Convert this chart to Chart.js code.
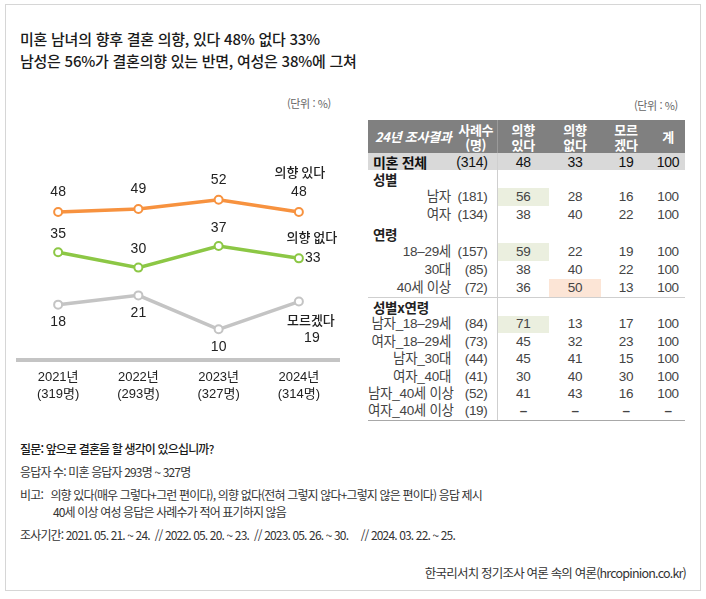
<!DOCTYPE html>
<html lang="ko">
<head>
<meta charset="utf-8">
<script src="https://cdn.jsdelivr.net/npm/chart.js@4.4.1/dist/chart.umd.min.js"></script>
<style>
  html, body { margin: 0; padding: 0; background: #fff; }
  body {
    width: 706px; height: 599px; position: relative; overflow: hidden;
    font-family: "Liberation Sans", "Noto Sans CJK KR", sans-serif; color: #222;
  }
  #frame {
    position: absolute; left: 5px; top: 4px; width: 696px; height: 587px;
    border: 1px solid #d6d6d6; box-sizing: border-box;
  }
  #title {
    position: absolute; left: 20px; top: 28px;
    font-family: "Noto Sans CJK KR", sans-serif; font-size: 15px; font-weight: 500;
    line-height: 22px; letter-spacing: -0.25px; color: #1a1a1a;
  }
  .unit {
    position: absolute; font-family: "Noto Sans CJK KR", sans-serif;
    font-size: 11px; color: #666; letter-spacing: -0.4px; line-height: 14px;
  }
  #chartBox { position: absolute; left: 0; top: 80px; width: 360px; height: 340px; }

  #tbl {
    position: absolute; left: 368px; top: 120px; width: 317px;
    border-collapse: collapse; table-layout: fixed;
    font-size: 13.5px; color: #444; letter-spacing: -0.3px;
  }
  #tbl td, #tbl th { padding: 0; white-space: nowrap; text-align: center; line-height: 16px; }
  #tbl th {
    background: #808080; color: #fff; font-weight: bold; height: 33px;
    font-size: 13px; line-height: 15px; font-family: "Noto Sans CJK KR", sans-serif;
  }
  #tbl th.first { text-align: left; padding-left: 7px; font-style: italic; }
  #tbl .sep { border-left: 1px solid #cfcfcf; }
  #tbl th.sep { border-left: 1px solid #9a9a9a; }
  #tbl tr.total td { background: #d9d9d9; color: #111; font-size: 14px; height: 17px; }
  #tbl tr.total td.lab { text-align: left; padding-left: 5px; font-weight: bold; font-family: "Noto Sans CJK KR", sans-serif; }
  #tbl tbody.g1 tr td { height: 18.2px; }
  #tbl tbody.g2 tr td { height: 17.4px; }
  #tbl td.grp { text-align: left; padding-left: 5px; font-weight: bold; color: #222; font-family: "Noto Sans CJK KR", sans-serif; }
  #tbl td.lab { text-align: right; padding-right: 4px; }
  #tbl td.n { text-align: right; padding-right: 9px; }
  #tbl tr.line td { border-bottom: 1px solid #cfcfcf; }
  #tbl tr.last td { border-bottom: 1px solid #a8a8a8; }
  #tbl td.hl-green { background: #ebefdf; }
  #tbl td.hl-orange { background: #fce5d6; }

  .note {
    position: absolute; left: 20px; font-family: "Noto Sans CJK KR", sans-serif;
    font-size: 12px; color: #333; letter-spacing: -0.85px; line-height: 16px; white-space: pre;
  }
  .note.q { font-weight: 500; color: #1a1a1a; }
  #source {
    position: absolute; right: 20px; top: 565px; font-family: "Noto Sans CJK KR", sans-serif;
    font-size: 12.5px; color: #333; letter-spacing: -0.8px; line-height: 16px;
  }
</style>
</head>
<body>
<div id="frame"></div>
<div id="title">미혼 남녀의 향후 결혼 의향, 있다 48% 없다 33%<br>남성은 56%가 결혼의향 있는 반면, 여성은 38%에 그쳐</div>
<div class="unit" style="left:287px; top:96px;">(단위 : %)</div>
<div class="unit" style="left:634px; top:98px;">(단위 : %)</div>

<div id="chartBox"><canvas id="trend" width="360" height="340"></canvas></div>

<table id="tbl">
  <colgroup>
    <col style="width:87px"><col style="width:42px"><col style="width:52px">
    <col style="width:52px"><col style="width:50px"><col style="width:34px">
  </colgroup>
  <thead><tr id="headRow"></tr></thead>
  <tbody id="totalBody"></tbody>
  <tbody id="body1" class="g1"></tbody>
  <tbody id="body2" class="g2"></tbody>
</table>

<div class="note q" style="top:441px;">질문: 앞으로 결혼을 할 생각이 있으십니까?</div>
<div class="note" style="top:464px;">응답자 수: 미혼 응답자 293명 ~ 327명</div>
<div class="note" style="top:487px;">비고:   의향 있다(매우 그렇다+그런 편이다), 의향 없다(전혀 그렇지 않다+그렇지 않은 편이다) 응답 제시</div>
<div class="note" style="top:504px; left:53px;">40세 이상 여성 응답은 사례수가 적어 표기하지 않음</div>
<div class="note" style="top:527px;">조사기간: 2021. 05. 21. ~ 24.  // 2022. 05. 20. ~ 23.  // 2023. 05. 26. ~ 30.     // 2024. 03. 22. ~ 25.</div>
<div id="source">한국리서치 정기조사 여론 속의 여론(hrcopinion.co.kr)</div>

<script>
// 추이 차트 데이터
const years = ["2021년", "2022년", "2023년", "2024년"];
const sampleSizes = ["(319명)", "(293명)", "(327명)", "(314명)"];
const intendYes = [48, 49, 52, 48];
const intendNo = [35, 30, 37, 33];
const unsure = [18, 21, 10, 19];
const seriesNames = ["의향 있다", "의향 없다", "모르겠다"];

// 24년 조사결과 표
const tableHeaders = ["24년 조사결과", "사례수\n(명)", "의향\n있다", "의향\n없다", "모르\n겠다", "계"];
const totalLabel = "미혼 전체";
const totalN = 314;
const totalValues = [48, 33, 19, 100];

const genderLabels = ["남자", "여자"];
const genderN = [181, 134];
const genderValues = [[56, 28, 16, 100], [38, 40, 22, 100]];

const ageLabels = ["18–29세", "30대", "40세 이상"];
const ageN = [157, 85, 72];
const ageValues = [[59, 22, 19, 100], [38, 40, 22, 100], [36, 50, 13, 100]];

const genderAgeLabels = ["남자_18–29세", "여자_18–29세", "남자_30대", "여자_40대", "남자_40세 이상", "여자_40세 이상"];
const genderAgeN = [84, 73, 44, 41, 52, 19];
const genderAgeValues = [
  [71, 13, 17, 100], [45, 32, 23, 100], [45, 41, 15, 100],
  [30, 40, 30, 100], [41, 43, 16, 100], [null, null, null, null]
];

// 강조 셀: [행 이름, 열 번호, 색]
const highlights = [["남자", 0, "green"], ["18–29세", 0, "green"], ["40세 이상", 1, "orange"], ["남자_18–29세", 0, "green"]];

// --- 표 만들기 ---
const headRow = document.getElementById("headRow");
tableHeaders.forEach((h, i) => {
  const th = document.createElement("th");
  th.innerHTML = h.replace("\n", "<br>");
  if (i === 0) th.className = "first";
  if (i === 2) th.className = "sep";
  headRow.appendChild(th);
});

function valueCells(tr, label, values) {
  values.forEach((v, i) => {
    const td = document.createElement("td");
    td.textContent = v === null ? "–" : v;
    if (v === null) td.style.fontWeight = "bold";
    const cls = [];
    if (i === 0) cls.push("sep");
    const hl = highlights.find(h => h[0] === label && h[1] === i);
    if (hl) cls.push("hl-" + hl[2]);
    td.className = cls.join(" ");
    tr.appendChild(td);
  });
}

function addGroup(body, name) {
  const tr = document.createElement("tr");
  tr.innerHTML = `<td class="grp" colspan="2">${name}</td><td class="sep"></td><td></td><td></td><td></td>`;
  body.appendChild(tr);
}

function addRows(body, labels, ns, values, lastClass) {
  labels.forEach((lab, r) => {
    const tr = document.createElement("tr");
    tr.innerHTML = `<td class="lab">${lab}</td><td class="n">(${ns[r]})</td>`;
    valueCells(tr, lab, values[r]);
    if (r === labels.length - 1 && lastClass) tr.className = lastClass;
    body.appendChild(tr);
  });
}

const totalBody = document.getElementById("totalBody");
const totalTr = document.createElement("tr");
totalTr.className = "total";
totalTr.innerHTML = `<td class="lab">${totalLabel}</td><td class="n">(${totalN})</td>`;
valueCells(totalTr, totalLabel, totalValues);
totalBody.appendChild(totalTr);

const body1 = document.getElementById("body1");
addGroup(body1, "성별");
addRows(body1, genderLabels, genderN, genderValues);
addGroup(body1, "연령");
addRows(body1, ageLabels, ageN, ageValues, "line");

const body2 = document.getElementById("body2");
addGroup(body2, "성별x연령");
addRows(body2, genderAgeLabels, genderAgeN, genderAgeValues, "last");

// --- 값 라벨 플러그인 ---
const numFont = '14px "Liberation Sans", "Noto Sans CJK KR", sans-serif';
const nameFont = '500 13px "Noto Sans CJK KR", sans-serif';

const valueLabels = {
  id: "valueLabels",
  afterDatasetsDraw(chart) {
    const ctx = chart.ctx;
    ctx.save();
    ctx.fillStyle = "#222";
    ctx.textBaseline = "middle";
    chart.data.datasets.forEach((ds, di) => {
      const meta = chart.getDatasetMeta(di);
      const last = meta.data.length - 1;
      meta.data.forEach((pt, i) => {
        const v = ds.data[i];
        if (i < last) {
          ctx.font = numFont;
          ctx.textAlign = "center";
          ctx.fillText(v, pt.x, pt.y + ds.labelDy);
          return;
        }
        const e = ds.endLabel;
        ctx.font = nameFont;
        ctx.textAlign = "center";
        ctx.fillText(ds.label, pt.x + e.nameDx, pt.y + e.nameDy);
        ctx.font = numFont;
        ctx.textAlign = e.valueAlign;
        ctx.fillText(v, pt.x + e.valueDx, pt.y + e.valueDy);
      });
    });
    ctx.restore();
  }
};

const seriesColors = ["#f7923f", "#8cc745", "#c4c4c4"];

function lineSet(label, data, color, labelDy, endLabel) {
  return {
    label, data,
    borderColor: color,
    borderWidth: 3.5,
    pointRadius: 4,
    pointBorderWidth: 2,
    pointBackgroundColor: "#fff",
    pointBorderColor: color,
    tension: 0,
    labelDy, endLabel
  };
}

new Chart(document.getElementById("trend"), {
  type: "line",
  data: {
    labels: years.map((y, i) => [y, sampleSizes[i]]),
    datasets: [
      lineSet(seriesNames[0], intendYes, seriesColors[0], -20,
        { nameDx: 1, nameDy: -40, valueDx: 0, valueDy: -20, valueAlign: "center" }),
      lineSet(seriesNames[1], intendNo, seriesColors[1], -18,
        { nameDx: 13, nameDy: -21, valueDx: 6, valueDy: 0, valueAlign: "left" }),
      lineSet(seriesNames[2], unsure, seriesColors[2], 18,
        { nameDx: 12, nameDy: 19, valueDx: 13, valueDy: 37, valueAlign: "center" })
    ]
  },
  options: {
    responsive: false,
    animation: false,
    layout: { padding: { left: 18, right: 21, top: 95, bottom: 8 } },
    plugins: { legend: { display: false }, tooltip: { enabled: false } },
    scales: {
      x: {
        offset: true,
        grid: { display: false, drawTicks: false },
        border: { display: true, color: "#c4c4c4", width: 4 },
        ticks: {
          color: "#222",
          padding: 9,
          font: { size: 13, family: '"Liberation Sans", "Noto Sans CJK KR", sans-serif', lineHeight: 1.3 }
        }
      },
      y: { display: false, min: 0, max: 60 }
    }
  },
  plugins: [valueLabels]
});
</script>
</body>
</html>
